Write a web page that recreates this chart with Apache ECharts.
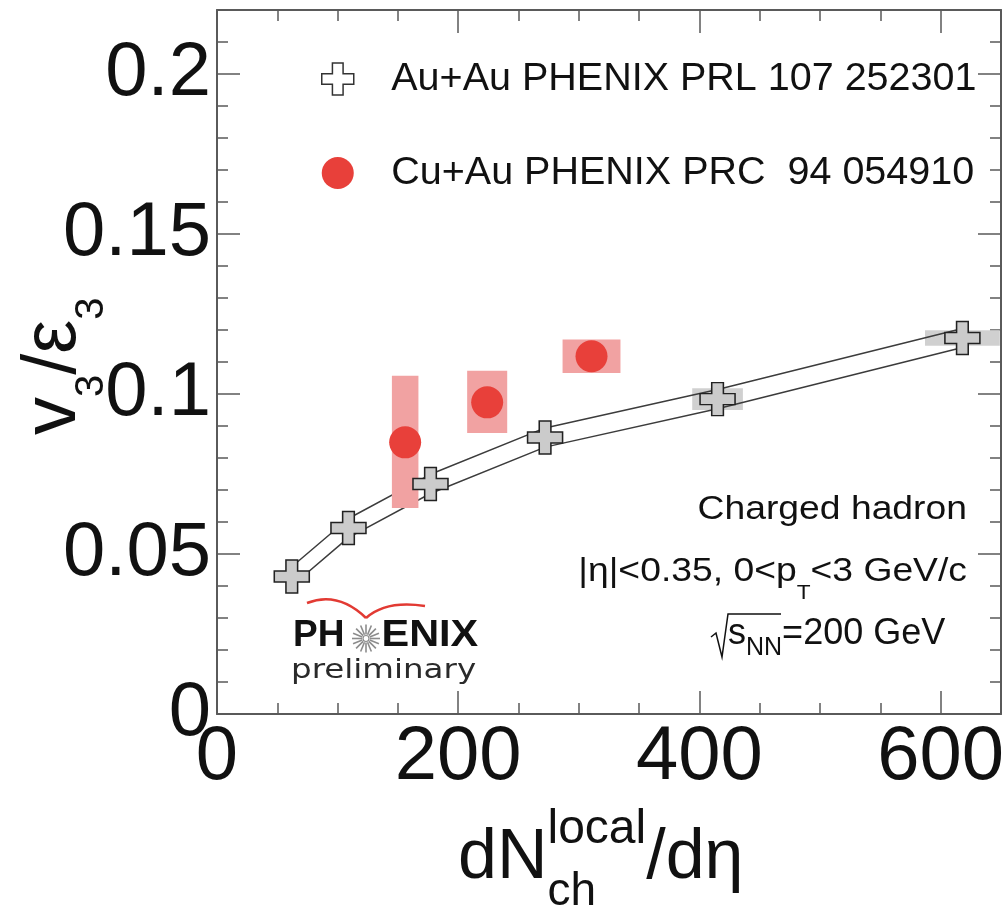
<!DOCTYPE html>
<html>
<head>
<meta charset="utf-8">
<script src="https://cdn.jsdelivr.net/npm/echarts@6/dist/echarts.min.js"></script>
<style>
  html, body { margin: 0; padding: 0; background: #fff; }
  #chart { width: 1008px; height: 911px; }
</style>
</head>
<body>
<div id="chart"></div>
<script>
// ---- axis ticks ----
const xTicks = [0, 200, 400, 600];
const xTickLabels = ['0', '200', '400', '600'];
const yTicks = [0, 0.05, 0.1, 0.15, 0.2];
const yTickLabels = ['0', '0.05', '0.1', '0.15', '0.2'];

// ---- Au+Au, PHENIX PRL 107 252301 ----
const auX = [62, 109, 177, 272, 415, 618];
const auY = [0.0430, 0.0581, 0.0719, 0.0864, 0.0984, 0.1175];
const auSys = [0.003, 0.003, 0.003, 0.003, 0.003, 0.003];   // band half-width
const auBoxDx = [0, 0, 0, 0, 21, 31];                       // grey box half-width in x
const auBoxDy = [0, 0, 0, 0, 0.0034, 0.0024];               // grey box half-height in y

// ---- Cu+Au, PHENIX PRC 94 054910 ----
const cuX = [156, 224, 310.5];
const cuY = [0.0849, 0.0974, 0.1118];
const cuBoxDx = [11, 16.6, 24];
const cuSysLo = [0.0644, 0.0878, 0.1066];
const cuSysHi = [0.1057, 0.1073, 0.1170];

const AU_NAME = 'Au+Au PHENIX PRL 107 252301';
const CU_NAME = 'Cu+Au PHENIX PRC  94 054910';

const FONT = '"Liberation Sans", Arial, Helvetica, sans-serif';
const AXIS_COLOR = '#5a5a5a';
const TEXT_COLOR = '#111';
const RED = '#e8403a';
const RED_BOX = '#f1a2a2';
const GREY_BOX = '#d0d0d0';
const CROSS_PATH = 'path://M1,0H2V1H3V2H2V3H1V2H0V1H1Z';

// ---- text helpers (sub/superscripts laid out on a common baseline) ----
const measureCtx = document.createElement('canvas').getContext('2d');
function textWidth(s, size, weight, family) {
  measureCtx.font = (weight || 'normal') + ' ' + size + 'px ' + (family || FONT);
  return measureCtx.measureText(s).width;
}
function textPiece(t, x, dy, size, weight, family, color) {
  return {
    type: 'text', x: x, y: dy - 0.35 * size, silent: true,
    style: {
      text: t, fontSize: size, fontWeight: weight || 'normal',
      fontFamily: family || FONT, fill: color || TEXT_COLOR,
      align: 'left', verticalAlign: 'middle'
    }
  };
}
// pieces: {t,size,dy,weight,family} or {stack:[piece,piece]} (sup and sub at same x)
function textRun(pieces, opts) {
  let cx = 0;
  const children = [];
  pieces.forEach(function (p) {
    const group = p.stack || [p];
    let w = 0;
    group.forEach(function (q) {
      children.push(textPiece(q.t, cx, q.dy || 0, q.size, q.weight, q.family, opts.color));
      w = Math.max(w, textWidth(q.t, q.size, q.weight, q.family));
    });
    cx += w;
  });
  if (opts.align === 'right') children.forEach(function (c) { c.x -= cx; });
  return {
    type: 'group', x: opts.x, y: opts.y, rotation: opts.rotation || 0,
    scaleX: opts.scaleX || 1, silent: true, children: children
  };
}

// ---- axes: major/minor tick sets mirrored on all four sides ----
function tickLabel(ticks, labels) {
  return function (v) {
    for (let i = 0; i < ticks.length; i++) {
      if (Math.abs(v - ticks[i]) < 1e-9) return labels[i];
    }
    return '';
  };
}
function axisDef(dim, position, interval, tickLen, withLabels, withLine) {
  const isX = dim === 'x';
  return {
    type: 'value', gridIndex: 0, position: position,
    min: 0, max: isX ? 650 : 0.22, interval: interval,
    axisLine: { show: withLine, onZero: false, lineStyle: { color: AXIS_COLOR, width: 2 } },
    axisTick: { show: true, inside: true, length: tickLen, lineStyle: { color: AXIS_COLOR, width: 1.5 } },
    axisLabel: {
      show: withLabels, fontSize: 76, fontFamily: FONT, color: TEXT_COLOR,
      margin: 6, showMaxLabel: false, hideOverlap: false,
      formatter: isX ? tickLabel(xTicks, xTickLabels) : tickLabel(yTicks, yTickLabels)
    },
    splitLine: { show: false },
    minorTick: { show: false }
  };
}

function boxRender(fill) {
  return function (params, api) {
    const p0 = api.coord([api.value(0), api.value(3)]);
    const p1 = api.coord([api.value(1), api.value(2)]);
    return {
      type: 'rect',
      shape: { x: p0[0], y: p0[1], width: p1[0] - p0[0], height: p1[1] - p0[1] },
      style: { fill: fill }
    };
  };
}

const auPoints = auX.map(function (x, i) { return [x, auY[i]]; });
const auUpper = auX.map(function (x, i) { return [x, auY[i] + auSys[i]]; });
const auLower = auX.map(function (x, i) { return [x, auY[i] - auSys[i]]; });
const auBoxes = [];
auX.forEach(function (x, i) {
  if (auBoxDx[i] > 0) auBoxes.push([x - auBoxDx[i], x + auBoxDx[i], auY[i] - auBoxDy[i], auY[i] + auBoxDy[i]]);
});
const cuPoints = cuX.map(function (x, i) { return [x, cuY[i]]; });
const cuBoxes = cuX.map(function (x, i) { return [x - cuBoxDx[i], x + cuBoxDx[i], cuSysLo[i], cuSysHi[i]]; });

// ---- decorations: axis titles, annotations, experiment logo ----
const graphics = [];

// x title: dN_ch^local / dη
graphics.push(textRun([
  { t: 'dN', size: 70 },
  { stack: [{ t: 'local', size: 48, dy: -36 }, { t: 'ch', size: 46, dy: 25 }] },
  { t: '/dη', size: 70 }
], { x: 458, y: 883 }));

// y title: v_3 / ε_3 (reads bottom to top)
graphics.push(textRun([
  { t: 'v', size: 76 },
  { t: '3', size: 40, dy: 25 },
  { t: '/ε', size: 76 },
  { t: '3', size: 40, dy: 25 }
], { x: 81, y: 435, rotation: Math.PI / 2 }));

// annotations
graphics.push(textRun([{ t: 'Charged hadron', size: 33 }],
  { x: 967, y: 521.7, align: 'right', scaleX: 1.13 }));
graphics.push(textRun([
  { t: '|η|<0.35, 0<p', size: 33 },
  { t: 'T', size: 20, dy: 17 },
  { t: '<3 GeV/c', size: 33 }
], { x: 967, y: 583.3, align: 'right', scaleX: 1.13 }));
graphics.push(textRun([
  { t: 's', size: 36 },
  { t: 'NN', size: 25, dy: 10 },
  { t: '=200 GeV', size: 36 }
], { x: 728, y: 646.7 }));
graphics.push({
  type: 'polyline', silent: true,
  shape: { points: [[711, 637], [716, 633], [722, 657], [728, 614], [781, 614]] },
  style: { stroke: TEXT_COLOR, lineWidth: 1.5, fill: null }
});

// PHENIX logo: red wings, name with starburst, "preliminary"
graphics.push({
  type: 'bezierCurve', silent: true,
  shape: { x1: 307, y1: 603, cpx1: 338, cpy1: 591, x2: 366, y2: 618 },
  style: { stroke: '#e23a33', lineWidth: 2.5, fill: null }
});
graphics.push({
  type: 'bezierCurve', silent: true,
  shape: { x1: 366, y1: 618, cpx1: 386, cpy1: 600, x2: 425, y2: 606 },
  style: { stroke: '#e23a33', lineWidth: 2.5, fill: null }
});
graphics.push(textRun([{ t: 'PH', size: 37, weight: 'bold' }], { x: 293, y: 648.3 }));
graphics.push(textRun([{ t: 'ENIX', size: 37, weight: 'bold' }], { x: 381.5, y: 648.3, scaleX: 1.12 }));
(function () {
  const cx = 366, cy = 638.5, rays = [];
  for (let k = 0; k < 16; k++) {
    const a = k * Math.PI / 8;
    rays.push({
      type: 'line', silent: true,
      shape: { x1: cx + 4 * Math.cos(a), y1: cy + 4 * Math.sin(a), x2: cx + 14 * Math.cos(a), y2: cy + 14 * Math.sin(a) },
      style: { stroke: '#8c8c8c', lineWidth: 1.6 }
    });
  }
  rays.push({ type: 'circle', silent: true, shape: { cx: cx, cy: cy, r: 3 }, style: { stroke: '#8c8c8c', lineWidth: 1.2, fill: '#fff' } });
  graphics.push({ type: 'group', silent: true, children: rays });
})();
graphics.push(textRun([{ t: 'preliminary', size: 26, family: '"DejaVu Sans", sans-serif' }],
  { x: 291, y: 680, scaleX: 1.25, color: '#2a2a2a' }));

const option = {
  animation: false,
  backgroundColor: '#fff',
  grid: { left: 217, top: 10, width: 784, height: 704, containLabel: false, outerBoundsMode: 'none' },
  xAxis: [
    axisDef('x', 'bottom', 200, 23, true, true),
    axisDef('x', 'bottom', 50, 11, false, false),
    axisDef('x', 'top', 200, 23, false, true),
    axisDef('x', 'top', 50, 11, false, false)
  ],
  yAxis: [
    axisDef('y', 'left', 0.05, 23, true, true),
    axisDef('y', 'left', 0.01, 11, false, false),
    axisDef('y', 'right', 0.05, 23, false, true),
    axisDef('y', 'right', 0.01, 11, false, false)
  ],
  legend: {
    orient: 'vertical', left: 321, top: 59, padding: 0, itemGap: 54,
    itemWidth: 33, itemHeight: 32, selectedMode: false,
    textStyle: { fontSize: 39.5, fontFamily: FONT, color: TEXT_COLOR, padding: [0, 0, 0, 32] },
    data: [
      { name: AU_NAME, icon: CROSS_PATH, itemStyle: { color: '#fff', borderColor: '#333', borderWidth: 1.5 } },
      { name: CU_NAME, icon: 'circle', itemStyle: { color: RED, borderWidth: 0 } }
    ]
  },
  graphic: graphics,
  series: [
    {
      name: 'Au+Au x-range', type: 'custom', z: 1, silent: true,
      renderItem: boxRender(GREY_BOX), encode: { x: [0, 1], y: [2, 3] }, data: auBoxes
    },
    {
      name: 'Au+Au sys upper', type: 'line', z: 2, silent: true, symbol: 'none',
      lineStyle: { color: '#3c3c3c', width: 1.5 }, data: auUpper
    },
    {
      name: 'Au+Au sys lower', type: 'line', z: 2, silent: true, symbol: 'none',
      lineStyle: { color: '#3c3c3c', width: 1.5 }, data: auLower
    },
    {
      name: 'Cu+Au sys', type: 'custom', z: 3, silent: true,
      renderItem: boxRender(RED_BOX), encode: { x: [0, 1], y: [2, 3] }, data: cuBoxes
    },
    {
      name: AU_NAME, type: 'scatter', z: 4, silent: true,
      symbol: CROSS_PATH, symbolSize: [35, 33],
      itemStyle: { color: '#cbcbcb', borderColor: '#222', borderWidth: 1.5, opacity: 1 },
      data: auPoints
    },
    {
      name: CU_NAME, type: 'scatter', z: 5, silent: true,
      symbol: 'circle', symbolSize: 32,
      itemStyle: { color: RED, opacity: 1 },
      data: cuPoints
    }
  ]
};

const chart = echarts.init(document.getElementById('chart'), null, { renderer: 'canvas' });
chart.setOption(option);
</script>
</body>
</html>
